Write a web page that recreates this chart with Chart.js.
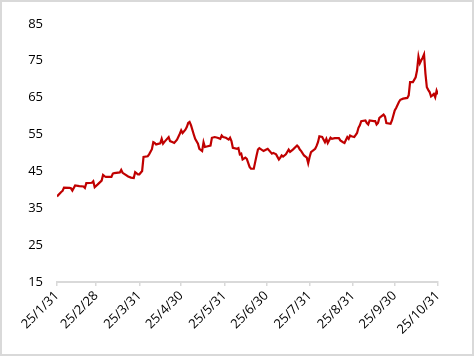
<!DOCTYPE html>
<html>
<head>
<meta charset="utf-8">
<script src="https://cdn.jsdelivr.net/npm/chart.js@4"></script>
<style>
  html, body { margin: 0; padding: 0; background: #ffffff; }
  #wrap { width: 474px; height: 356px; box-sizing: border-box; border: 2px solid #d9d9d9; position: relative; background: #fff; }
  #box { position: absolute; left: 0; top: 0; width: 470px; height: 352px; }
</style>
</head>
<body>
<div id="wrap"><div id="box"><canvas id="c"></canvas></div></div>
<script>
// Days since 2025-01-31
const dayOffsets = [0,3,4,5,9,10,11,13,16,19,20,21,25,26,27,29,32,33,34,35,39,40,41,45,46,47,51,53,55,56,58,59,61,62,65,66,68,69,70,71,74,75,76,77,80,81,83,84,86,88,89,90,92,93,94,95,96,98,99,101,102,104,105,106,108,110,111,113,115,117,118,119,121,123,124,125,126,129,130,131,132,133,135,136,138,139,141,142,143,144,145,148,150,151,154,155,157,159,160,161,162,164,166,167,169,172,173,174,175,177,179,180,181,182,185,186,187,188,190,192,193,194,196,197,199,202,203,205,206,208,209,210,211,213,215,216,217,218,221,222,223,224,227,228,229,230,231,234,235,236,239,240,242,243,245,246,248,251,252,253,255,257,258,259,260,261,262,263,264,265,266,267,268,269,270,271,272,273];
const seriesValues = [38.2,39.4,39.7,40.6,40.5,40.4,39.8,41.2,41.0,40.9,40.5,41.8,41.9,42.3,40.7,41.4,42.5,44.0,43.7,43.5,43.5,44.4,44.5,44.7,45.4,44.6,43.6,43.3,43.2,44.8,44.2,44.2,45.1,48.9,49.1,49.6,51.0,52.9,52.7,52.3,52.6,53.8,52.5,53.0,54.3,53.2,52.9,52.7,53.6,55.2,56.1,55.4,56.3,57.0,58.1,58.4,57.5,55.0,53.8,52.5,51.1,50.5,52.9,51.6,51.8,52.0,54.1,54.3,54.1,53.8,54.7,54.3,54.1,53.6,54.1,53.2,51.4,51.1,51.3,49.6,49.8,48.2,48.7,48.4,46.2,45.7,45.7,47.5,49.3,50.9,51.3,50.5,50.9,51.1,49.8,50.0,49.6,48.2,48.7,49.3,49.0,49.6,50.9,50.3,50.9,52.0,51.6,50.9,50.5,49.3,48.7,47.2,48.9,50.2,51.1,51.9,52.9,54.5,54.3,52.9,53.8,52.7,54.1,53.8,54.0,54.0,53.4,52.9,52.7,54.3,53.8,54.7,54.5,54.3,55.4,56.8,57.5,58.6,58.8,58.1,57.7,58.8,58.6,58.6,57.7,58.1,59.5,60.4,59.9,58.1,57.9,58.8,61.5,62.2,63.8,64.4,64.7,64.9,65.6,69.2,69.2,70.5,72.4,76.1,74.3,75.1,75.8,76.7,71.5,67.8,67.1,66.5,65.3,65.6,66.0,65.1,66.9,65.9];
const tickDays = [0,28,59,89,120,150,181,212,242,273];
const tickLabels = ['25/1/31','25/2/28','25/3/31','25/4/30','25/5/31','25/6/30','25/7/31','25/8/31','25/9/30','25/10/31'];
const yTicks = [15,25,35,45,55,65,75,85];

const points = dayOffsets.map((d, i) => ({ x: d, y: seriesValues[i] }));
const font = { family: "'Open Sans', 'Noto Sans', sans-serif", size: 13 };

new Chart(document.getElementById('c'), {
  type: 'line',
  data: {
    datasets: [{
      data: points,
      borderColor: '#c00000',
      borderWidth: 2.2,
      pointRadius: 0,
      tension: 0,
      fill: false
    }]
  },
  options: {
    responsive: true,
    maintainAspectRatio: false,
    animation: false,
    layout: { padding: { top: 21, right: 34, left: 0, bottom: 0 } },
    plugins: { legend: { display: false }, tooltip: { enabled: false } },
    scales: {
      x: {
        type: 'linear',
        min: tickDays[0],
        max: tickDays[tickDays.length - 1],
        afterBuildTicks: (scale) => { scale.ticks = tickDays.map(v => ({ value: v })); },
        afterFit: (scale) => { scale.height = 72; },
        grid: { display: true, drawOnChartArea: false, drawTicks: true, tickLength: 4, color: '#d9d9d9', lineWidth: 1.5 },
        border: { display: true, color: '#d9d9d9', width: 2 },
        ticks: {
          autoSkip: false,
          minRotation: 45,
          maxRotation: 45,
          padding: 2,
          color: '#000000',
          font: font,
          callback: (value, index) => tickLabels[index]
        }
      },
      y: {
        min: yTicks[0],
        max: yTicks[yTicks.length - 1],
        afterBuildTicks: (scale) => { scale.ticks = yTicks.map(v => ({ value: v })); },
        afterFit: (scale) => { scale.width = 55; },
        grid: { display: false, drawTicks: false },
        border: { display: false },
        ticks: { padding: 14, color: '#000000', font: font }
      }
    }
  }
});
</script>
</body>
</html>
